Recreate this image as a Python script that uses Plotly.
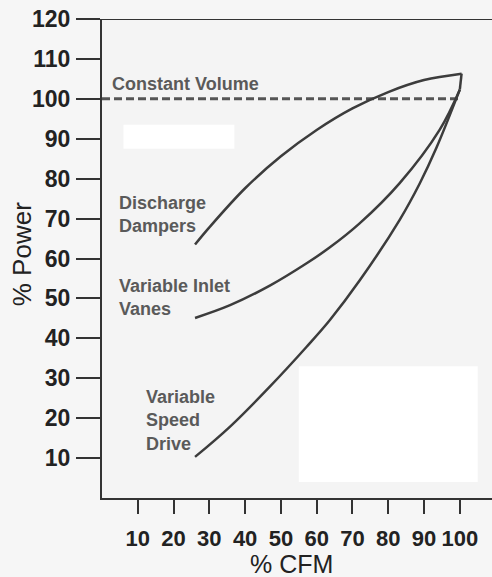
import plotly.graph_objects as go

# % CFM ticks and % Power ticks
x_ticks = [10, 20, 30, 40, 50, 60, 70, 80, 90, 100]
y_ticks = [10, 20, 30, 40, 50, 60, 70, 80, 90, 100, 110, 120]

# Constant volume (dashed)
cv_x = [0, 100]
cv_y = [100, 100]

# Discharge dampers
dd_x = [26, 30, 40, 50, 60, 70, 80, 90, 100.5]
dd_y = [63.5, 67.8, 77.6, 85.6, 92.2, 97.6, 101.7, 104.7, 106.3]

# Variable inlet vanes
iv_x = [26, 35.8, 46.9, 57.2, 63.7, 72.0, 83.2, 94.4, 100]
iv_y = [45.1, 48.3, 53.2, 58.8, 62.8, 68.8, 78.9, 92.3, 102.3]

# Variable speed drive
sd_x = [26, 35.8, 46.9, 57.2, 63.7, 72.1, 83.2, 88.8, 93.5, 100]
sd_y = [10.3, 17.9, 27.9, 37.9, 44.6, 54.6, 69.7, 78.8, 87.8, 102.3]

# Convergence point at full flow
end_x = [100]
end_y = [102.3]

LINE = "#3c3c3c"
TXT = "#5a5a5a"
FONT = "Liberation Sans, Arial, sans-serif"

fig = go.Figure()
fig.add_trace(go.Scatter(x=cv_x, y=cv_y, mode="lines",
                         line=dict(color="#555555", width=3, dash="8px,4px")))
fig.add_trace(go.Scatter(x=dd_x, y=dd_y, mode="lines",
                         line=dict(color=LINE, width=2.5, shape="spline", smoothing=1.0)))
fig.add_trace(go.Scatter(x=[dd_x[-1]] + end_x, y=[dd_y[-1]] + end_y, mode="lines",
                         line=dict(color=LINE, width=2.5)))
fig.add_trace(go.Scatter(x=iv_x, y=iv_y, mode="lines",
                         line=dict(color=LINE, width=2.5, shape="spline", smoothing=1.0)))
fig.add_trace(go.Scatter(x=sd_x, y=sd_y, mode="lines",
                         line=dict(color=LINE, width=2.5, shape="spline", smoothing=1.0)))

xtickfont = dict(family=FONT, size=22, color="#222222", weight="bold")
ytickfont = dict(family=FONT, size=23, color="#222222", weight="bold")

fig.update_layout(
    width=492, height=577, autosize=False,
    margin=dict(l=102, r=0, t=19, b=79),
    paper_bgcolor="#f6f6f6", plot_bgcolor="#f4f4f4",
    showlegend=False,
    xaxis=dict(range=[0, 109], tickvals=x_ticks, ticktext=[str(v) for v in x_ticks],
               ticks="outside", ticklen=14, tickwidth=2, tickcolor="#333333",
               showline=True, linecolor="#333333", linewidth=2,
               showgrid=False, zeroline=False, tickfont=xtickfont,
               ticklabelstandoff=6),
    yaxis=dict(range=[0, 120], tickvals=y_ticks, ticktext=[str(v) for v in y_ticks],
               ticks="outside", ticklen=24, tickwidth=2, tickcolor="#333333",
               showline=True, linecolor="#333333", linewidth=2,
               showgrid=False, zeroline=False, tickfont=ytickfont,
               ticklabelstandoff=1),
    shapes=[
        dict(type="rect", xref="x", yref="y", x0=55, x1=105, y0=4, y1=33,
             fillcolor="#ffffff", line=dict(width=0), layer="below"),
        dict(type="rect", xref="x", yref="y", x0=6, x1=37, y0=87.5, y1=93.5,
             fillcolor="#ffffff", line=dict(width=0), layer="below"),
        dict(type="line", xref="paper", yref="y", x0=0, x1=1, y0=120, y1=120,
             line=dict(color="#333333", width=2)),
    ],
)

ann_font = dict(family=FONT, size=18, color=TXT, weight="bold")
fig.add_annotation(x=2.2, y=103.6, xref="x", yref="y", text="Constant Volume",
                   showarrow=False, xanchor="left", yanchor="middle", font=ann_font)
fig.add_annotation(x=4.2, y=71, xref="x", yref="y", text="Discharge<br>Dampers",
                   showarrow=False, xanchor="left", yanchor="middle", align="left", font=ann_font)
fig.add_annotation(x=4.2, y=50.3, xref="x", yref="y", text="Variable Inlet<br>Vanes",
                   showarrow=False, xanchor="left", yanchor="middle", align="left", font=ann_font)
fig.add_annotation(x=11.8, y=19.3, xref="x", yref="y", text="Variable<br>Speed<br>Drive",
                   showarrow=False, xanchor="left", yanchor="middle", align="left", font=ann_font)

fig.add_annotation(x=-0.205, y=0.509, xref="paper", yref="paper", text="% Power",
                   showarrow=False, textangle=-90, xanchor="center", yanchor="middle",
                   font=dict(family=FONT, size=26, color="#222222"))
fig.add_annotation(x=0.487, y=-0.138, xref="paper", yref="paper", text="% CFM",
                   showarrow=False, xanchor="center", yanchor="middle",
                   font=dict(family=FONT, size=25, color="#222222"))

fig.write_html("out.html",
               config={"displayModeBar": False},
               post_script="document.body.style.margin='0';"
                           "document.body.style.overflow='hidden';"
                           "document.documentElement.style.overflow='hidden';")
